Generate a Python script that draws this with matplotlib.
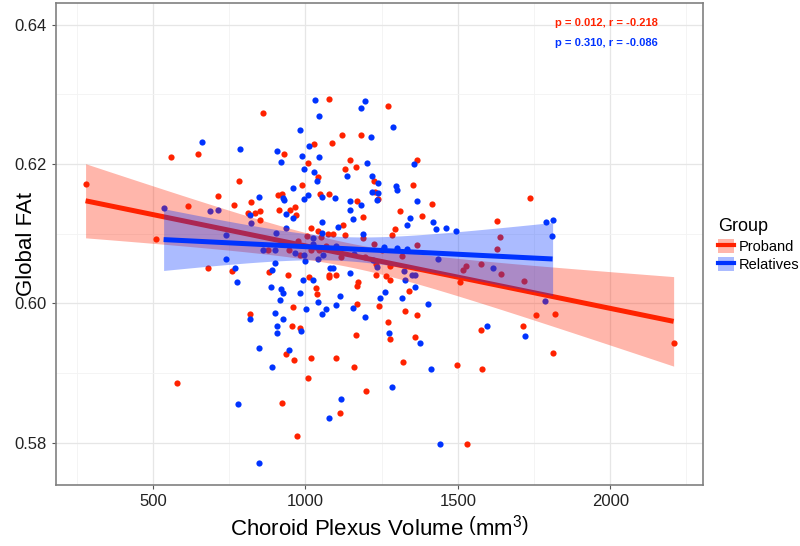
import numpy as np
import matplotlib
matplotlib.use('Agg')
import matplotlib.pyplot as plt
from matplotlib.patches import Patch
from matplotlib.lines import Line2D

# ---- data ----
proband_x = [279, 560, 647, 861, 783, 715, 614, 767, 821, 509, 812, 834, 850, 852, 929, 1076,
             1029, 1009, 1042, 989, 909, 922, 1048, 1077, 912, 949, 967, 969, 1020, 1040, 1075,
             1091, 1124, 1130, 1190, 1119, 1086, 1146, 1130, 1167, 1184, 1226, 1229, 1238, 1168,
             1188, 1271, 1365, 1354, 1415, 1310, 1383, 1294, 1285, 1629, 1737, 1637, 1630, 1365,
             1316, 1233, 1233, 1263, 1277, 1277, 1516, 1527, 1575, 1641, 1716, 1506, 1755, 1818,
             2208, 1340, 1240, 1327, 1366, 1271, 1276, 1361, 1575, 1713, 1812, 1320, 1496, 1579,
             1198, 1529, 680, 759, 881, 942, 1011, 1076, 1079, 1102, 1173, 1168, 1035, 1037, 959,
             1171, 957, 981, 818, 1165, 936, 963, 1017, 1102, 1159, 1007, 580, 923, 1114, 974,
             1225, 878, 947, 984, 1018, 1045, 1067, 1116, 1195, 1250, 976, 1004, 1050]
proband_y = [0.6171, 0.6210, 0.6214, 0.6273, 0.6176, 0.6154, 0.6139, 0.6141, 0.6146, 0.6092,
             0.6130, 0.6130, 0.6132, 0.6120, 0.6214, 0.6293, 0.6228, 0.6201, 0.6181, 0.6169,
             0.6155, 0.6157, 0.6157, 0.6157, 0.6134, 0.6134, 0.6138, 0.6127, 0.6108, 0.6104,
             0.6099, 0.6100, 0.6112, 0.6098, 0.6094, 0.6241, 0.6230, 0.6206, 0.6193, 0.6195,
             0.6241, 0.6175, 0.6159, 0.6150, 0.6147, 0.6124, 0.6283, 0.6206, 0.6170, 0.6143,
             0.6133, 0.6125, 0.6107, 0.6098, 0.6118, 0.6151, 0.6095, 0.6078, 0.6084, 0.6068,
             0.6056, 0.6040, 0.6039, 0.6034, 0.6053, 0.6047, 0.6053, 0.6056, 0.6042, 0.6032,
             0.6031, 0.5983, 0.5984, 0.5943, 0.6017, 0.5996, 0.5989, 0.5983, 0.5973, 0.5949,
             0.5952, 0.5961, 0.5968, 0.5928, 0.5915, 0.5911, 0.5905, 0.5874, 0.5798, 0.6050,
             0.6046, 0.6045, 0.6040, 0.6038, 0.6037, 0.6040, 0.6040, 0.6031, 0.6024, 0.6022,
             0.6013, 0.5994, 0.5999, 0.5967, 0.5964, 0.5984, 0.5954, 0.5927, 0.5918, 0.5921,
             0.5922, 0.5909, 0.5892, 0.5885, 0.5857, 0.5842, 0.5809,
             0.6085, 0.6076, 0.6077, 0.6069, 0.6076, 0.6076, 0.6082, 0.6067, 0.6067, 0.6077,
             0.6090, 0.6096, 0.6095]

relatives_x = [662, 784, 847, 535, 686, 715, 820, 908, 919, 982, 1032, 1045, 1012, 989, 1044,
               997, 1029, 1038, 958, 927, 929, 994, 1008, 1054, 1097, 935, 960, 938, 1056, 1053,
               1106, 1190, 1137, 1184, 1196, 1215, 1203, 1219, 1238, 1217, 1234, 1238, 1147, 1147,
               1157, 1184, 1289, 1298, 1299, 1355, 1365, 1342, 1332, 1419, 1430, 1460, 1494, 1789,
               1811, 1810, 1235, 1322, 1350, 1359, 1326, 1434, 1614, 1785, 1361, 1260, 1244, 1316,
               1402, 1194, 1274, 1376, 1597, 1721, 1412, 1284, 1442, 741, 768, 775, 899, 889, 998,
               993, 1026, 1080, 1089, 1148, 887, 919, 927, 917, 984, 1041, 1001, 900, 926, 908,
               906, 985, 817, 1055, 1068, 1101, 1113, 1157, 848, 947, 889, 778, 1117, 1077, 847,
               860, 902, 967, 996, 1026, 1058, 1100, 1161, 1222, 1299, 1258, 1335, 1043, 821, 903,
               1026, 740]
relatives_y = [0.6232, 0.6222, 0.6153, 0.6137, 0.6132, 0.6134, 0.6126, 0.6219, 0.6203, 0.6249,
               0.6292, 0.6269, 0.6225, 0.6211, 0.6210, 0.6192, 0.6188, 0.6176, 0.6166, 0.6151,
               0.6148, 0.6150, 0.6155, 0.6152, 0.6151, 0.6128, 0.6122, 0.6108, 0.6117, 0.6101,
               0.6110, 0.6100, 0.6183, 0.6280, 0.6290, 0.6239, 0.6201, 0.6182, 0.6172, 0.6159,
               0.6148, 0.6158, 0.6147, 0.6134, 0.6121, 0.6141, 0.6253, 0.6168, 0.6163, 0.6200,
               0.6147, 0.6123, 0.6112, 0.6117, 0.6106, 0.6108, 0.6104, 0.6116, 0.6119, 0.6097,
               0.6052, 0.6046, 0.6041, 0.6041, 0.6034, 0.6063, 0.6050, 0.6003, 0.6023, 0.6016,
               0.6008, 0.6007, 0.5999, 0.5980, 0.5957, 0.5943, 0.5968, 0.5953, 0.5906, 0.5880,
               0.5798, 0.6063, 0.6050, 0.6031, 0.6058, 0.6047, 0.6061, 0.6034, 0.6034, 0.6050,
               0.6050, 0.6044, 0.6023, 0.6021, 0.6014, 0.6004, 0.6015, 0.6002, 0.5992, 0.5986,
               0.5977, 0.5967, 0.5957, 0.5960, 0.5977, 0.5984, 0.5992, 0.5998, 0.6011, 0.5993,
               0.5936, 0.5933, 0.5908, 0.5856, 0.5863, 0.5835, 0.5771,
               0.6077, 0.6077, 0.6072, 0.6069, 0.6085, 0.6069, 0.6082, 0.6070, 0.6062, 0.6079,
               0.6080, 0.6078, 0.6063, 0.6115, 0.6101, 0.6094, 0.6098]

groups = ['Proband', 'Relatives']
stats_text = ['p = 0.012, r = -0.218', 'p = 0.310, r = -0.086']
x_ticks = [500, 1000, 1500, 2000]
y_ticks = [0.58, 0.60, 0.62, 0.64]

red = '#ff2200'
blue = '#0033ff'

plt.rcParams['font.family'] = ['Liberation Sans', 'DejaVu Sans']
plt.rcParams['mathtext.fontset'] = 'custom'
plt.rcParams['mathtext.rm'] = 'Liberation Sans'
plt.rcParams['mathtext.it'] = 'Liberation Sans:italic'


def fit_band(x, y, tval=1.98):
   x = np.asarray(x, float)
   y = np.asarray(y, float)
   n = len(x)
   b, a = np.polyfit(x, y, 1)
   res = y - (a + b*x)
   s = np.sqrt(np.sum(res**2)/(n-2))
   xm = x.mean()
   sxx = np.sum((x-xm)**2)
   xs = np.linspace(x.min(), x.max(), 80)
   fit = a + b*xs
   se = s*np.sqrt(1.0/n + (xs-xm)**2/sxx)
   return xs, fit, fit - tval*se, fit + tval*se


fig = plt.figure(figsize=(8.0, 5.46), dpi=100)
ax = fig.add_axes([0.07, 0.1117, 0.809, 0.8828])

ax.scatter(proband_x, proband_y, s=20, color=red, linewidths=0, zorder=3)
ax.scatter(relatives_x, relatives_y, s=20, color=blue, linewidths=0, zorder=3)

# ggplot order: red ribbon, red line, blue ribbon, blue line
xs, fit, lo, hi = fit_band(proband_x, proband_y)
ax.fill_between(xs, lo, hi, color=red, alpha=0.33, linewidth=0, zorder=4)
ax.plot(xs, fit, color=red, lw=3.6, zorder=5, solid_capstyle='butt')
xs, fit, lo, hi = fit_band(relatives_x, relatives_y)
ax.fill_between(xs, lo, hi, color=blue, alpha=0.33, linewidth=0, zorder=6)
ax.plot(xs, fit, color=blue, lw=3.6, zorder=7, solid_capstyle='butt')

ax.set_xlim(182, 2305)
ax.set_ylim(0.5739, 0.6431)
ax.set_xticks(x_ticks)
ax.set_xticklabels([str(v) for v in x_ticks])
ax.set_yticks(y_ticks)
ax.set_yticklabels(['%.2f' % v for v in y_ticks])
ax.set_xticks([250, 750, 1250, 1750, 2250], minor=True)
ax.set_yticks([0.59, 0.61, 0.63], minor=True)
ax.grid(which='major', color='#e6e6e6', lw=0.9, zorder=0)
ax.grid(which='minor', color='#f3f3f3', lw=0.6, zorder=0)
ax.set_axisbelow(True)
ax.tick_params(which='major', length=3, color='#555555', labelsize=12, labelcolor='#222222')
ax.tick_params(which='minor', length=0)
for sp in ax.spines.values():
   sp.set_color('#808080')
   sp.set_linewidth(1.2)

ax.set_ylabel('Global FAt', fontsize=16)
ax.yaxis.set_label_coords(-0.03, 0.5)
ax.set_xlabel(r'Choroid Plexus Volume $\left(\mathrm{mm}^{3}\right)$', fontsize=16, labelpad=4)

ax.text(0.930, 0.9585, stats_text[0], transform=ax.transAxes, ha='right', va='center',
        color=red, fontsize=8, fontweight='bold')
ax.text(0.930, 0.917, stats_text[1], transform=ax.transAxes, ha='right', va='center',
        color=blue, fontsize=8, fontweight='bold')

handles = [(Patch(facecolor=red, alpha=0.33, edgecolor='none'), Line2D([], [], color=red, lw=3)),
           (Patch(facecolor=blue, alpha=0.33, edgecolor='none'), Line2D([], [], color=blue, lw=3))]
leg = fig.legend(handles, groups, title='Group', loc='upper left',
                 bbox_to_anchor=(0.8975, 1 - 218/546), frameon=False, fontsize=10.5,
                 title_fontsize=13, handlelength=1.1, handleheight=1.1, handletextpad=0.3,
                 labelspacing=0.25, borderaxespad=0, borderpad=0)
leg._legend_box.align = 'left'

plt.savefig('out.png', dpi=100)
